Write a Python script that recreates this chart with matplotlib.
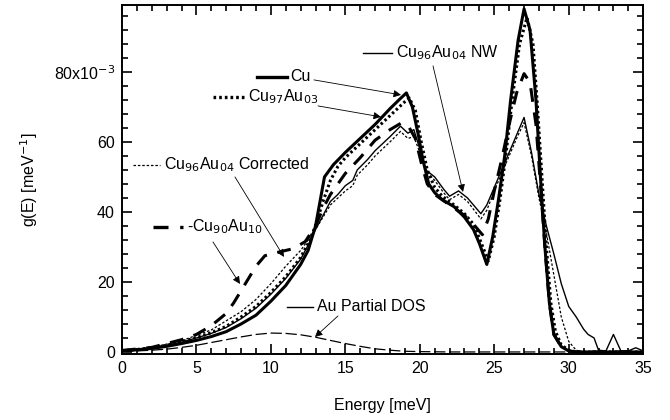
import matplotlib
matplotlib.use("Agg")
import matplotlib.pyplot as plt
import numpy as np

plt.rcParams['font.family'] = ['Liberation Sans', 'DejaVu Sans']

# g(E) values in units of 10^-3 meV^-1
e_cu = [0, 1, 2, 3, 4, 5, 6, 7, 8, 9, 10, 11, 12, 12.5, 13, 13.3, 13.6, 14.2, 15, 16, 17, 18, 18.6, 19.1,
        19.5, 19.9, 20.2, 20.6, 21, 21.5, 22.3, 23, 23.6, 24, 24.5, 24.9, 25.3, 25.7, 26.1, 26.6, 27,
        27.4, 27.8, 28.1, 28.4, 28.7, 29.0, 29.5, 30, 30.5, 35]
g_cu = [0.4, 0.6, 1.0, 1.6, 2.4, 3.3, 4.4, 5.8, 8, 10.5, 14.5, 19, 25, 29, 36, 43, 50, 53.5, 57, 61, 65, 69.5, 72, 74,
        70, 62, 55, 48, 45.5, 43.5, 41.5, 38.5, 35, 31, 25, 33, 44, 56, 72, 89, 98,
        92, 72, 50, 30, 14, 5, 1.5, 0.3, 0, 0]

e_cu97 = [0, 1, 2, 3, 4, 5, 6, 7, 8, 9, 10, 11, 12, 12.5, 13, 13.5, 14, 14.5, 15, 16, 17, 18, 19, 19.3,
          19.7, 20.1, 20.5, 21, 21.5, 22.3, 23, 23.6, 24, 24.6, 25, 25.4, 25.8, 26.2, 26.7, 27.2,
          27.6, 27.9, 28.2, 28.5, 28.8, 29.1, 29.5, 30, 30.5, 35]
g_cu97 = [0.4, 0.7, 1.2, 1.9, 2.9, 4.1, 5.5, 7.3, 10, 13, 17, 21.5, 27, 31, 36, 43, 49, 53, 55.5, 59.5, 63.5, 67.5, 71.5, 72.5,
          69, 60, 52, 47, 44.5, 42, 39.5, 36.5, 32.5, 26, 33, 44, 57, 72, 88, 95.5,
          88, 70, 50, 30, 14, 6, 2, 0.5, 0, 0]

e_nw = [0, 1, 2, 3, 4, 5, 6, 7, 8, 9, 10, 11, 12, 12.5, 13, 13.5, 14, 14.5, 15, 15.5, 15.8, 16.5, 17, 18,
        18.7, 19.2, 19.6, 20, 20.4, 21, 21.6, 22, 22.6, 23.2, 24.1, 24.5, 25, 25.5, 26, 26.5, 27,
        27.5, 28, 28.5, 29, 29.5, 30, 30.5, 31, 31.3, 31.7, 32, 32.5, 33, 33.5, 34, 34.5, 35]
g_nw = [0.4, 0.7, 1.2, 1.9, 2.8, 4, 5.3, 7, 9.5, 12.5, 16.5, 21, 26.5, 30.5, 35, 39, 43, 45, 47.5, 49, 52, 55, 57.5, 61.5,
        64.5, 62.5, 63.5, 58, 52, 50, 46.5, 44.5, 46, 44, 39.5, 42, 47, 52, 57, 62, 67,
        57, 45, 36, 28, 19.5, 13, 10, 6.5, 5, 4, 0.5, 0.3, 5, 0.3, 0.3, 1.2, 0.3]

e_corr = [0, 2, 4, 6, 8, 9, 10, 11, 12, 12.5, 13, 13.5, 14, 14.5, 15, 15.5, 15.8, 16.5, 17, 18,
          18.7, 19.2, 19.6, 20, 20.4, 21, 21.6, 22, 22.6, 23.2, 24.1, 24.5, 25, 25.5, 26, 26.5, 27,
          27.5, 28, 28.5, 29, 29.5, 30, 30.5, 31, 35]
g_corr = [0.4, 1.3, 3.2, 6.3, 11.5, 15, 19.5, 24.5, 29, 32, 35, 38.5, 42, 44, 46, 47.5, 50.5, 53.5, 56, 60,
          63, 61, 61.5, 57, 52, 49, 45.5, 43.5, 45, 43, 38, 40.5, 46, 51, 56, 61, 65.5,
          56, 44, 34, 22, 10, 3, 0.5, 0, 0]

e_cu90 = [0, 2, 4, 5, 6, 7, 7.5, 8, 8.5, 9, 9.6, 10.5, 11.5, 12.3, 13, 13.5, 14, 14.5, 15, 16, 17, 18, 18.8,
          19.3, 19.7, 20.1, 20.5, 21, 22, 23, 23.6, 24.2, 24.6, 25, 25.5, 26, 26.5, 27,
          27.4, 27.8, 28.1, 28.4, 28.7, 29, 29.5, 30, 30.5, 35]
g_cu90 = [0.4, 1.3, 3.5, 5, 7.5, 11, 14, 17.5, 21, 24.5, 27.5, 28.5, 29.5, 31.5, 36, 41, 45, 48, 51, 55.5, 60.5, 63.5, 65.5,
          64, 61, 54, 48, 45, 42, 39, 36.5, 33.5, 38, 46, 55, 65, 74, 79.5,
          77, 65, 48, 30, 14, 5, 1.5, 0.3, 0, 0]

e_au = [0, 1, 2, 3, 4, 5, 6, 7, 8, 9, 10, 11, 12, 13, 14, 15, 16, 17, 18, 19, 20, 22, 35]
g_au = [0.2, 0.3, 0.5, 0.8, 1.3, 1.9, 2.7, 3.5, 4.3, 5.0, 5.4, 5.3, 4.9, 4.2, 3.3, 2.4, 1.6, 0.9, 0.5, 0.2, 0.1, 0, 0]

fig = plt.figure(figsize=(6.7, 4.2), dpi=100)
ax = fig.add_axes([0.182, 0.157, 0.778, 0.831])

ax.plot(e_au, g_au, color='k', lw=0.9, dashes=(9, 3))
ax.plot(e_corr, g_corr, color='k', lw=0.9, dashes=(2, 1.5))
ax.plot(e_nw, g_nw, color='k', lw=1.0)
ax.plot(e_cu90, g_cu90, color='k', lw=2.2, dashes=(4.5, 3.5))
ax.plot(e_cu97, g_cu97, color='k', lw=2.2, dashes=(0.8, 0.9))
ax.plot(e_cu, g_cu, color='k', lw=2.2)

ax.set_xlim(0, 35)
ax.set_ylim(-0.6, 99.1)
ax.set_xticks([0, 5, 10, 15, 20, 25, 30, 35])
ax.set_xticks(np.arange(0, 36, 1), minor=True)
ax.set_yticks([0, 20, 40, 60, 80])
ax.set_yticklabels(['0', '20', '40', '60', '80x10$^{-3}$'])
ax.set_yticks(np.arange(0, 99, 4), minor=True)
ax.tick_params(which='both', direction='in', top=True, right=True, labelsize=11.5, width=1.2)
ax.tick_params(which='major', length=7, pad=5)
ax.tick_params(which='minor', length=4)
for s in ax.spines.values():
    s.set_linewidth(1.4)

ax.set_xlabel('Energy [meV]', fontsize=11.5, labelpad=16)
ax.set_ylabel('g(E) [meV$^{-1}$]', fontsize=11.5, labelpad=10)


def to_data(px, py):
    # pixel position in the 670x420 frame -> data coords
    return ((px - 122) / 14.89, (352 - py) / 3.5)


def key(x0, x1, y, label, lw, dashes, arrow_from, arrow_to):
    a, yy = to_data(x0, y)
    b, _ = to_data(x1, y)
    if dashes is None:
        ax.plot([a, b], [yy, yy], color='k', lw=lw, clip_on=False)
    else:
        ax.plot([a, b], [yy, yy], color='k', lw=lw, dashes=dashes, clip_on=False)
    ax.text(b + 0.25, yy, label, fontsize=11.5, va='center', ha='left')
    ax.annotate('', xy=to_data(*arrow_to), xytext=to_data(*arrow_from),
                arrowprops=dict(arrowstyle='-|>', color='k', lw=0.6, mutation_scale=11,
                                shrinkA=0, shrinkB=0))


key(257, 287, 77, 'Cu', 2.4, None, (314, 80), (401, 95))
key(213, 244, 97, 'Cu$_{97}$Au$_{03}$', 2.4, (0.8, 0.9), (318, 106), (381, 117))
key(133, 160, 165, 'Cu$_{96}$Au$_{04}$ Corrected', 0.9, (2, 1.5), (235, 177), (284, 257))
key(153, 183, 227, '-Cu$_{90}$Au$_{10}$', 2.4, (4.5, 3.5), (213, 242), (240, 284))
key(287, 313, 307, 'Au Partial DOS', 1.0, None, (338, 316), (315, 337))
key(363, 392, 53, 'Cu$_{96}$Au$_{04}$ NW', 1.0, None, (433, 66), (463, 192))

fig.savefig('out.png', dpi=100)
